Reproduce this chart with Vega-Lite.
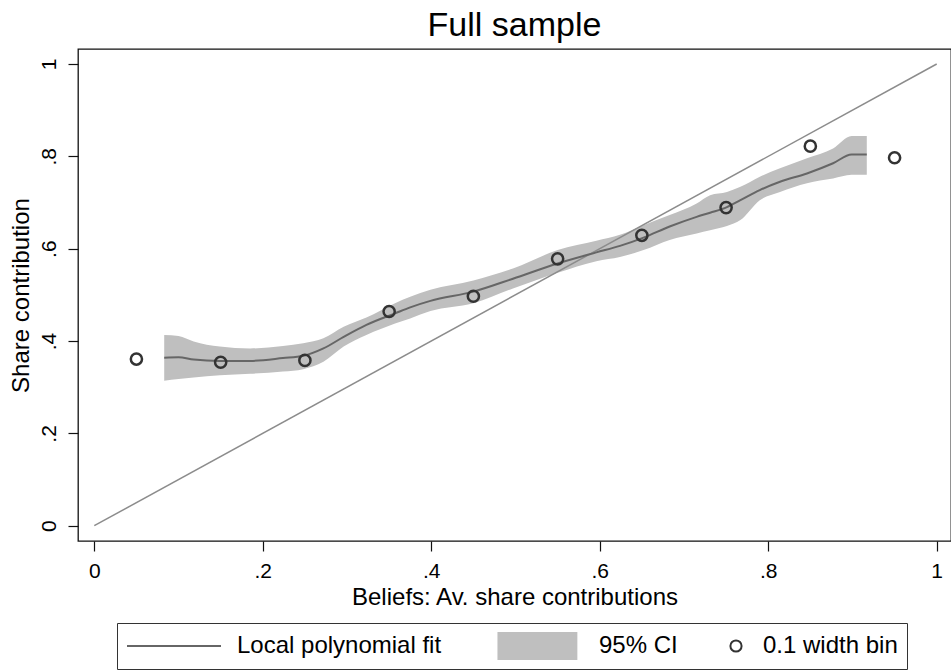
{
  "$schema": "https://vega.github.io/schema/vega-lite/v6.json",
  "width": 873,
  "height": 492,
  "autosize": {"type": "none"},
  "padding": {"left": 78, "top": 49, "right": 0, "bottom": 129},
  "title": {"text": "Full sample", "frame": "group", "fontSize": 34, "fontWeight": "normal", "font": "Liberation Sans", "color": "#000000", "anchor": "middle", "baseline": "alphabetic", "offset": 13, "dy": 34},
  "datasets": {
    "fit": [
      {"x": 0.083, "fit": 0.364, "lo": 0.314, "hi": 0.413},
      {"x": 0.100, "fit": 0.365, "lo": 0.318, "hi": 0.411},
      {"x": 0.118, "fit": 0.360, "lo": 0.321, "hi": 0.399},
      {"x": 0.149, "fit": 0.357, "lo": 0.326, "hi": 0.388},
      {"x": 0.185, "fit": 0.357, "lo": 0.329, "hi": 0.384},
      {"x": 0.224, "fit": 0.363, "lo": 0.334, "hi": 0.389},
      {"x": 0.248, "fit": 0.368, "lo": 0.339, "hi": 0.395},
      {"x": 0.272, "fit": 0.384, "lo": 0.355, "hi": 0.406},
      {"x": 0.296, "fit": 0.409, "lo": 0.388, "hi": 0.431},
      {"x": 0.323, "fit": 0.435, "lo": 0.413, "hi": 0.451},
      {"x": 0.357, "fit": 0.460, "lo": 0.438, "hi": 0.482},
      {"x": 0.375, "fit": 0.473, "lo": 0.449, "hi": 0.496},
      {"x": 0.399, "fit": 0.487, "lo": 0.465, "hi": 0.511},
      {"x": 0.450, "fit": 0.507, "lo": 0.482, "hi": 0.531},
      {"x": 0.497, "fit": 0.535, "lo": 0.514, "hi": 0.557},
      {"x": 0.550, "fit": 0.568, "lo": 0.548, "hi": 0.597},
      {"x": 0.596, "fit": 0.592, "lo": 0.573, "hi": 0.617},
      {"x": 0.624, "fit": 0.606, "lo": 0.582, "hi": 0.630},
      {"x": 0.652, "fit": 0.624, "lo": 0.597, "hi": 0.651},
      {"x": 0.683, "fit": 0.648, "lo": 0.619, "hi": 0.673},
      {"x": 0.715, "fit": 0.669, "lo": 0.633, "hi": 0.698},
      {"x": 0.731, "fit": 0.678, "lo": 0.640, "hi": 0.716},
      {"x": 0.751, "fit": 0.690, "lo": 0.649, "hi": 0.723},
      {"x": 0.767, "fit": 0.705, "lo": 0.662, "hi": 0.734},
      {"x": 0.790, "fit": 0.727, "lo": 0.705, "hi": 0.756},
      {"x": 0.814, "fit": 0.745, "lo": 0.723, "hi": 0.774},
      {"x": 0.846, "fit": 0.763, "lo": 0.742, "hi": 0.796},
      {"x": 0.877, "fit": 0.785, "lo": 0.752, "hi": 0.817},
      {"x": 0.899, "fit": 0.804, "lo": 0.760, "hi": 0.844},
      {"x": 0.917, "fit": 0.804, "lo": 0.760, "hi": 0.844}
    ],
    "bins": [
      {"x": 0.05, "y": 0.361},
      {"x": 0.15, "y": 0.354},
      {"x": 0.25, "y": 0.358},
      {"x": 0.35, "y": 0.464},
      {"x": 0.45, "y": 0.497},
      {"x": 0.55, "y": 0.578},
      {"x": 0.65, "y": 0.629},
      {"x": 0.75, "y": 0.689},
      {"x": 0.85, "y": 0.822},
      {"x": 0.95, "y": 0.797}
    ],
    "diag": [
      {"x": 0, "y": 0},
      {"x": 1, "y": 1}
    ]
  },
  "encoding": {
    "x": {
      "field": "x",
      "type": "quantitative",
      "scale": {"domain": [-0.01935, 1.01697], "nice": false, "zero": false},
      "axis": {
        "title": "Beliefs: Av. share contributions",
        "values": [0, 0.2, 0.4, 0.6, 0.8, 1],
        "labelExpr": "datum.value == 0 ? '0' : datum.value == 1 ? '1' : '.' + round(datum.value * 10)",
        "labelPadding": 9,
        "titlePadding": 4
      }
    }
  },
  "layer": [
    {
      "data": {"name": "fit"},
      "mark": {"type": "area", "interpolate": "monotone", "opacity": 1},
      "encoding": {
        "y": {
          "field": "lo",
          "type": "quantitative",
          "scale": {"domain": [-0.0331, 1.0325], "nice": false, "zero": false},
          "axis": {
            "title": "Share contribution",
            "values": [0, 0.2, 0.4, 0.6, 0.8, 1],
            "labelExpr": "datum.value == 0 ? '0' : datum.value == 1 ? '1' : '.' + round(datum.value * 10)",
            "labelAngle": -90,
            "labelAlign": "center",
            "labelBaseline": "alphabetic",
            "labelPadding": 13,
            "titlePadding": 5
          }
        },
        "y2": {"field": "hi"},
        "fill": {
          "datum": "95% CI",
          "type": "nominal",
          "scale": {"domain": ["Local polynomial fit", "95% CI", "0.1 width bin"], "range": ["transparent", "#bfbfbf", "transparent"]},
          "legend": {"title": null}
        }
      }
    },
    {
      "data": {"name": "diag"},
      "mark": {"type": "line", "stroke": "#8c8c8c", "strokeWidth": 1.5},
      "encoding": {
        "y": {
          "field": "y",
          "type": "quantitative",
          "scale": {"domain": [-0.0331, 1.0325], "nice": false, "zero": false},
          "axis": {
            "title": "Share contribution",
            "values": [0, 0.2, 0.4, 0.6, 0.8, 1],
            "labelExpr": "datum.value == 0 ? '0' : datum.value == 1 ? '1' : '.' + round(datum.value * 10)",
            "labelAngle": -90,
            "labelAlign": "center",
            "labelBaseline": "alphabetic",
            "labelPadding": 13,
            "titlePadding": 5
          }
        }
      }
    },
    {
      "data": {"name": "fit"},
      "mark": {"type": "line", "interpolate": "monotone", "strokeWidth": 2},
      "encoding": {
        "y": {
          "field": "fit",
          "type": "quantitative",
          "scale": {"domain": [-0.0331, 1.0325], "nice": false, "zero": false},
          "axis": {
            "title": "Share contribution",
            "values": [0, 0.2, 0.4, 0.6, 0.8, 1],
            "labelExpr": "datum.value == 0 ? '0' : datum.value == 1 ? '1' : '.' + round(datum.value * 10)",
            "labelAngle": -90,
            "labelAlign": "center",
            "labelBaseline": "alphabetic",
            "labelPadding": 13,
            "titlePadding": 5
          }
        },
        "stroke": {
          "datum": "Local polynomial fit",
          "type": "nominal",
          "scale": {"domain": ["Local polynomial fit", "95% CI", "0.1 width bin"], "range": ["#666666", "transparent", "#333333"]},
          "legend": {"title": null}
        }
      }
    },
    {
      "data": {"name": "bins"},
      "mark": {"type": "point", "strokeWidth": 2.5, "opacity": 1, "filled": false},
      "encoding": {
        "y": {
          "field": "y",
          "type": "quantitative",
          "scale": {"domain": [-0.0331, 1.0325], "nice": false, "zero": false},
          "axis": {
            "title": "Share contribution",
            "values": [0, 0.2, 0.4, 0.6, 0.8, 1],
            "labelExpr": "datum.value == 0 ? '0' : datum.value == 1 ? '1' : '.' + round(datum.value * 10)",
            "labelAngle": -90,
            "labelAlign": "center",
            "labelBaseline": "alphabetic",
            "labelPadding": 13,
            "titlePadding": 5
          }
        },
        "stroke": {"datum": "0.1 width bin", "type": "nominal", "legend": {"title": null}},
        "fill": {"datum": "0.1 width bin", "type": "nominal", "legend": {"title": null}},
        "size": {
          "datum": "0.1 width bin",
          "type": "nominal",
          "scale": {"type": "ordinal", "domain": ["Local polynomial fit", "95% CI", "0.1 width bin"], "range": [8836, 8836, 125]},
          "legend": {"title": null}
        },
        "shape": {
          "datum": "0.1 width bin",
          "type": "nominal",
          "scale": {
            "domain": ["Local polynomial fit", "95% CI", "0.1 width bin"],
            "range": ["M-1,0H1", "M-0.82,-0.3H0.88V0.3H-0.82Z", "circle"]
          },
          "legend": {"title": null}
        }
      }
    }
  ],
  "config": {
    "font": "Liberation Sans",
    "background": "white",
    "view": {"stroke": "#111111", "strokeWidth": 1.3},
    "axis": {
      "domain": false,
      "grid": false,
      "tickColor": "#111111",
      "tickWidth": 1.2,
      "tickSize": 10,
      "labelColor": "#000000",
      "titleColor": "#000000",
      "labelFont": "Liberation Sans",
      "titleFont": "Liberation Sans",
      "labelFontSize": 21,
      "titleFontSize": 24,
      "titleFontWeight": "normal"
    },
    "legend": {
      "orient": "none",
      "legendX": 39,
      "legendY": 574,
      "direction": "horizontal",
      "clipHeight": 28,
      "symbolStrokeWidth": 2,
      "symbolFillColor": "transparent",
      "labelFont": "Liberation Sans",
      "labelFontSize": 24,
      "labelColor": "#000000",
      "labelLimit": 0,
      "labelOffset": 15,
      "columnPadding": 46,
      "padding": 9,
      "strokeColor": "#333333"
    }
  }
}
